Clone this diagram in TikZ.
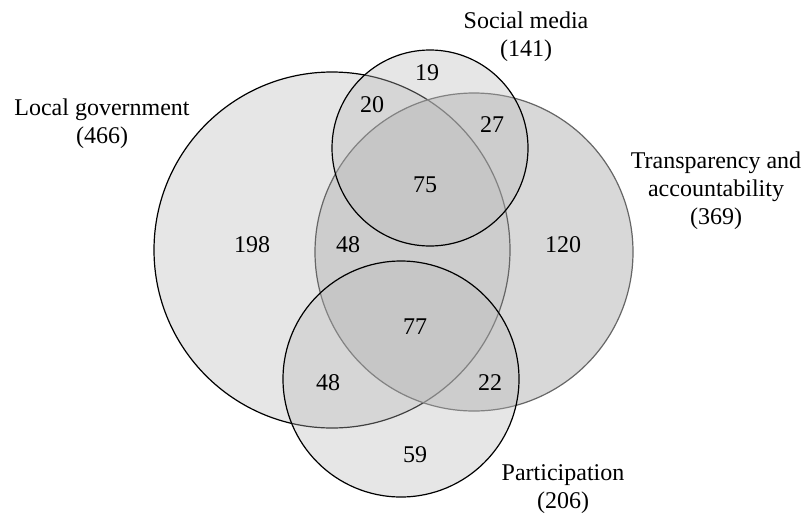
\documentclass[tikz,border=0pt]{standalone}
\usepackage{fontspec}
\setmainfont{Liberation Serif}

\begin{document}
\begin{tikzpicture}[x=1pt,y=-1pt,
    every node/.style={font=\fontsize{24}{28}\selectfont,align=center},
    set/.style={fill=black!28,fill opacity=#1,line width=1.2pt}]
      \useasboundingbox (0,0) rectangle (805,520) ;
      % the four sets
      \draw[set=0.35] (332,250) circle (178) ;
      \draw[set=0.55,draw=black!60] (474,252) circle (159) ;
      \draw[set=0.35] (430,148) circle (98) ;
      \draw[set=0.35] (401,379) circle (118) ;
      % set names
      \node (lg) at (102,124) {Local government\\(466)} ;
      \node (sm) at (526,37) {Social media\\(141)} ;
      \node (ta) at (716,191) {Transparency and\\accountability\\(369)} ;
      \node (pa) at (563,489) {Participation\\(206)} ;
      % counts
      \node (n19) at (427,73) {19} ;
      \node (n20) at (372,105) {20} ;
      \node (n27) at (492,125) {27} ;
      \node (n75) at (425,185) {75} ;
      \node (n198) at (252,245) {198} ;
      \node (n48a) at (348,245) {48} ;
      \node (n120) at (563,245) {120} ;
      \node (n77) at (415,327) {77} ;
      \node (n48b) at (328,383) {48} ;
      \node (n22) at (490,383) {22} ;
      \node (n59) at (415,455) {59} ;
    \end{tikzpicture}
\end{document}
